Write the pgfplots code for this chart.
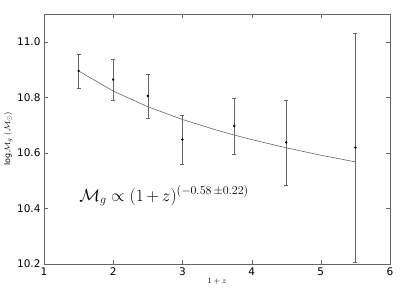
\documentclass[border=0pt]{standalone}
\usepackage{fontspec}
\setmainfont{DejaVu Sans}
\usepackage{pgfplots}
\pgfplotsset{compat=1.18}
\begin{document}
\begin{tikzpicture}
\begin{axis}[
  scale only axis,
  width=346pt, height=250pt,
  xmin=1, xmax=6, ymin=10.2, ymax=11.1,
  xtick={1,2,3,4,5,6},
  ytick={10.2,10.4,10.6,10.8,11.0},
  yticklabel style={/pgf/number format/.cd,fixed,fixed zerofill,precision=1},
  /pgf/number format/assume math mode=true,
  tick align=inside,
  tick pos=both,
  major tick length=4pt,
  axis line style={draw=black!60},
  tick style={black!60},
  ticklabel style={font=\fontsize{10.5}{12}\selectfont},
  xlabel={$1+z$},
  ylabel={$\log \mathcal{M}_g\ (\mathcal{M}_\odot)$},
  label style={font=\footnotesize},
  xlabel style={yshift=4pt},
  ylabel style={yshift=-2pt},
]
\addplot[black!60, line width=0.6pt] coordinates {
(1.5,10.895) (2,10.8225) (2.5,10.7663) (3,10.7204) (3.5,10.6816) (3.75,10.6642)
(4,10.6479) (4.5,10.6183) (5,10.5917) (5.5,10.5677)};
\addplot[only marks, mark=*, mark size=1pt, black,
  error bars/.cd, y dir=both, y explicit,
  error bar style={black!60, line width=0.6pt},
  error mark options={rotate=90, mark size=2pt, black!60}]
  coordinates {
  (1.5,10.895) +- (0,0.062)
  (2,10.864) +- (0,0.073)
  (2.5,10.805) +- (0,0.080)
  (3,10.648) +- (0,0.087)
  (3.75,10.697) +- (0,0.100)
  (4.5,10.638) +- (0,0.153)
  (5.5,10.619) +- (0,0.413)
};
\node[anchor=west, font=\fontsize{18.5}{21}\selectfont] at (axis cs:1.46,10.445)
  {$\mathcal{M}_g \propto (1\,{+}\,z)^{(-0.58\,\pm 0.22)}$};
\end{axis}
\pgfresetboundingbox
\useasboundingbox ([shift={(-44pt,-27pt)}]current axis.south west) rectangle ([shift={(17pt,14pt)}]current axis.north east);
\end{tikzpicture}
\end{document}
